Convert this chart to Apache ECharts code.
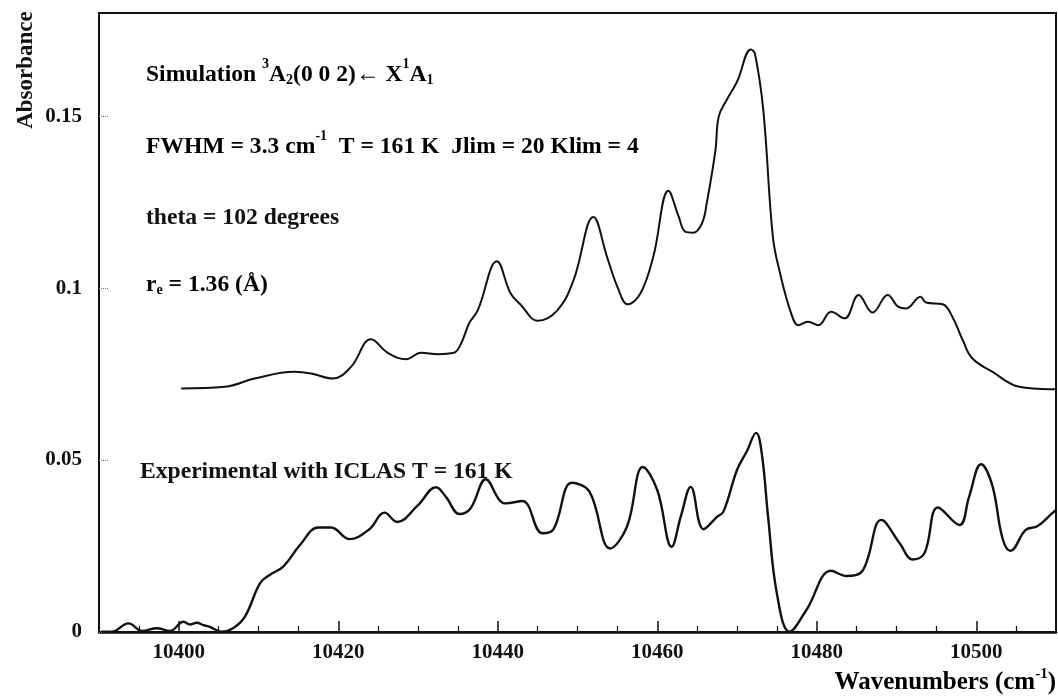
<!DOCTYPE html>
<html>
<head>
<meta charset="utf-8">
<title>Absorbance spectrum</title>
<script src="https://cdn.jsdelivr.net/npm/echarts@6/dist/echarts.min.js"></script>
<style>
  html, body { margin: 0; padding: 0; background: #fff; }
  #chart { width: 1058px; height: 697px; }
</style>
</head>
<body>
<div id="chart"></div>
<script>
// simulated spectrum (wavenumber, absorbance)
const simX = [10400.3, 10405.8, 10409.5, 10414.5, 10416.6, 10419.3, 10421.6, 10424.1, 10426.2, 10428.5,
  10430.4, 10432.5, 10434.5, 10435.4, 10436.4, 10437.5, 10439.9, 10441.6, 10442.9, 10445.0,
  10447.5, 10449.5, 10452.0, 10453.7, 10455.0, 10456.3, 10457.9, 10459.5, 10461.4, 10462.7,
  10463.5, 10464.5, 10465.6, 10466.2, 10467.3, 10467.7, 10468.7, 10470.0, 10471.75, 10472.25,
  10473.3, 10474.5, 10475.4, 10476.8, 10477.7, 10478.9, 10480.2, 10481.8, 10483.5, 10485.25,
  10487.0, 10488.9, 10490.2, 10491.2, 10493.0, 10493.7, 10495.8, 10497.0, 10498.3, 10499.5,
  10502.0, 10505.4, 10509.3, 10510];
const simY = [0.0708, 0.0713, 0.0737, 0.0757, 0.0752, 0.0737, 0.0771, 0.0851, 0.0812, 0.0793,
  0.0812, 0.0808, 0.0812, 0.0839, 0.0897, 0.0936, 0.1078, 0.0985, 0.0951, 0.0905,
  0.0936, 0.1023, 0.1207, 0.1091, 0.1004, 0.0953, 0.0985, 0.1091, 0.1283, 0.1207,
  0.1164, 0.1161, 0.1188, 0.1246, 0.1401, 0.1498, 0.1547, 0.1600, 0.1694, 0.1682,
  0.1517, 0.1149, 0.1043, 0.0926, 0.0892, 0.0902, 0.0892, 0.0931, 0.0912, 0.0980,
  0.0929, 0.0980, 0.0946, 0.0941, 0.0975, 0.0958, 0.0953, 0.0917, 0.0849, 0.0796,
  0.0757, 0.0713, 0.0706, 0.0706];

// experimental ICLAS spectrum
const expX = [10390.3, 10391.6, 10393.7, 10395.4, 10397.25, 10398.9, 10400.6, 10401.4, 10402.25, 10403.1,
  10403.9, 10405.4, 10406.8, 10408.3, 10410.2, 10411.4, 10413.1, 10415.2, 10417.5, 10419.1,
  10421.4, 10423.9, 10425.8, 10427.4, 10430.0, 10432.25, 10433.5, 10435.2, 10436.6, 10438.5,
  10440.2, 10441.0, 10443.1, 10445.6, 10447.0, 10449.3, 10451.5, 10454.1, 10456.2, 10458.2,
  10460.0, 10461.8, 10463.0, 10464.2, 10465.8, 10467.5, 10468.3, 10470.0, 10471.2, 10472.4,
  10473.1, 10473.9, 10475.0, 10476.6, 10478.7, 10481.8, 10483.7, 10485.8, 10488.1, 10490.4,
  10492.0, 10493.5, 10495.2, 10497.9, 10499.1, 10500.6, 10502.0, 10503.3, 10504.3, 10506.2,
  10507.7, 10509.5, 10510];
const expY = [0.0001, 0.0001, 0.0025, 0.0003, 0.0011, 0.0003, 0.0030, 0.0022, 0.0027, 0.0020,
  0.0015, 0.0001, 0.0011, 0.0045, 0.0142, 0.0166, 0.0190, 0.0253, 0.0304, 0.0304,
  0.0270, 0.0299, 0.0347, 0.0320, 0.0369, 0.0421, 0.0393, 0.0343, 0.0360, 0.0444,
  0.0384, 0.0374, 0.0381, 0.0287, 0.0299, 0.0434, 0.0408, 0.0243, 0.0306, 0.0480,
  0.0413, 0.0248, 0.0340, 0.0422, 0.0299, 0.0335, 0.0350, 0.0471, 0.0524, 0.0579,
  0.0520, 0.0335, 0.0112, 0.0001, 0.0064, 0.0178, 0.0163, 0.0180, 0.0326, 0.0258,
  0.0211, 0.0229, 0.0362, 0.0311, 0.0393, 0.0488, 0.0427, 0.0272, 0.0236, 0.0297,
  0.0308, 0.0345, 0.0355];

const xMajorTicks = [10400, 10420, 10440, 10460, 10480, 10500];
const xMinorTicks = [10395, 10405, 10410, 10415, 10425, 10430, 10435, 10445, 10450, 10455,
  10465, 10470, 10475, 10485, 10490, 10495, 10505];
const yTicks = [0, 0.05, 0.1, 0.15];

const serif = '"Liberation Serif", "DejaVu Serif", serif';
const ink = '#111';

const chart = echarts.init(document.getElementById('chart'));

const textBase = { fontFamily: serif, fontWeight: 'bold', fontSize: 23.6, fill: ink };
const rich = {
  a: { fontFamily: serif, fontWeight: 'bold', fontSize: 23.6, color: ink, lineHeight: 30, verticalAlign: 'bottom' },
  sup: { fontFamily: serif, fontWeight: 'bold', fontSize: 14, color: ink, lineHeight: 30, verticalAlign: 'top' },
  sub: { fontFamily: serif, fontWeight: 'bold', fontSize: 14, color: ink, lineHeight: 22, verticalAlign: 'bottom' }
};

const option = {
  animation: false,
  backgroundColor: '#fff',
  grid: {
    left: 99, right: 2, top: 13, bottom: 65,
    show: true, borderColor: ink, borderWidth: 2
  },
  xAxis: [
    {
      type: 'value', min: 10390, max: 10510,
      axisLine: { lineStyle: { color: ink, width: 2.5 } },
      axisTick: { inside: true, length: 11, customValues: xMajorTicks, lineStyle: { color: ink, width: 1.5 } },
      axisLabel: {
        customValues: xMajorTicks, margin: 10,
        formatter: v => String(v),
        fontFamily: serif, fontWeight: 'bold', fontSize: 21, color: ink
      },
      splitLine: { show: false }
    },
    {
      type: 'value', min: 10390, max: 10510, position: 'bottom',
      axisLine: { show: false },
      axisTick: { inside: true, length: 6, customValues: xMinorTicks, lineStyle: { color: ink, width: 1.2 } },
      axisLabel: { show: false },
      splitLine: { show: false }
    }
  ],
  yAxis: {
    type: 'value', min: 0, max: 0.18,
    axisLine: { show: true, lineStyle: { color: ink, width: 2 } },
    axisTick: { inside: true, length: 10, customValues: yTicks, lineStyle: { color: '#777', width: 1, type: 'dotted' } },
    axisLabel: {
      customValues: yTicks, margin: 17,
      fontFamily: serif, fontWeight: 'bold', fontSize: 21, color: ink
    },
    splitLine: { show: false }
  },
  series: [
    {
      name: 'Simulation', type: 'line', xAxisIndex: 0,
      data: simX.map((x, i) => [x, simY[i]]),
      showSymbol: false, smooth: 0.4,
      lineStyle: { color: ink, width: 2 }
    },
    {
      name: 'Experimental', type: 'line', xAxisIndex: 0,
      data: expX.map((x, i) => [x, expY[i]]),
      showSymbol: false, smooth: 0.4,
      lineStyle: { color: ink, width: 2.4 }
    }
  ],
  graphic: [
    // axis titles
    { type: 'text', x: 26, y: 70, rotation: Math.PI / 2,
      style: Object.assign({ text: 'Absorbance', align: 'center', verticalAlign: 'middle' }, textBase, { fontSize: 23 }) },
    { type: 'text', right: 2, top: 667,
      style: {
        text: '{a|Wavenumbers (cm}{sup|-1}{a|)}',
        rich: {
          a: { fontFamily: serif, fontWeight: 'bold', fontSize: 25, color: ink, lineHeight: 28, verticalAlign: 'bottom' },
          sup: { fontFamily: serif, fontWeight: 'bold', fontSize: 15, color: ink, lineHeight: 28, verticalAlign: 'top' }
        }
      } },
    // annotations
    { type: 'text', left: 146, top: 57,
      style: { text: '{a|Simulation }{sup|3}{a|A}{sub|2}{a|(0 0 2)\u2190 X}{sup|1}{a|A}{sub|1}', rich: rich } },
    { type: 'text', left: 146, top: 129,
      style: { text: '{a|FWHM = 3.3 cm}{sup|-1}{a|  T = 161 K  Jlim = 20 Klim = 4}', rich: rich } },
    { type: 'text', left: 146, top: 206,
      style: Object.assign({ text: 'theta = 102 degrees' }, textBase) },
    { type: 'text', left: 146, top: 273,
      style: { text: '{a|r}{sub|e}{a| = 1.36 (\u00c5)}', rich: rich } },
    { type: 'text', left: 140, top: 460,
      style: Object.assign({ text: 'Experimental with ICLAS T = 161 K' }, textBase) }
  ]
};

chart.setOption(option);
</script>
</body>
</html>
